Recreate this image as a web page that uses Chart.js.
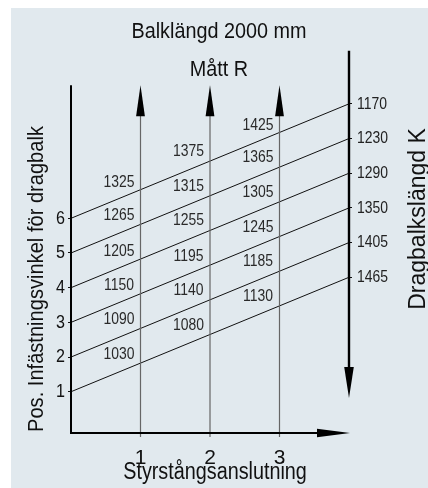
<!DOCTYPE html>
<html><head><meta charset="utf-8">
<script src="https://cdn.jsdelivr.net/npm/chart.js@4"></script>
<style>html,body{margin:0;padding:0;background:#fff}canvas{display:block}</style>
</head><body>
<canvas id="c" width="428" height="488"></canvas>
<script>
const FONT = "'Liberation Sans', Arial, sans-serif";

// ---- texts ----
const titleLines = ['Balklängd 2000 mm', 'Mått R'];
const xTitle = 'Styrstångsanslutning';
const yTitle = 'Pos. Infästningsvinkel för dragbalk';
const y2Title = 'Dragbalkslängd K';

// ---- axis ticks ----
const xTicks = [1, 2, 3];                       // Styrstångsanslutning
const posTicks = [1, 2, 3, 4, 5, 6];            // Pos. infästningsvinkel
const kLabels = ['1465', '1405', '1350', '1290', '1230', '1170']; // Dragbalkslängd K
const kPos = [4.3, 5.3, 6.3, 7.3, 8.3, 9.3];    // where each K sits on the right axis

// ---- Mått R labels, one column per Styrstångsanslutning ----
const rCols = [0.69, 1.69, 2.69];
const r1Labels = ['1030', '1090', '1150', '1205', '1265', '1325'];
const r1Pos = [2.08, 3.09, 4.08, 5.06, 6.09, 7.05];
const r2Labels = ['1080', '1140', '1195', '1255', '1315', '1375'];
const r2Pos = [2.92, 3.93, 4.91, 5.93, 6.93, 7.92];
const r3Labels = ['1130', '1185', '1245', '1305', '1365', '1425'];
const r3Pos = [3.76, 4.75, 5.74, 6.74, 7.76, 8.69];

const rLabelSets = [r1Labels, r2Labels, r3Labels];
const rPosSets = [r1Pos, r2Pos, r3Pos];

const lineSets = posTicks.map((p, i) => ({
  type: 'line',
  data: [{x: 0, y: p}, {x: 4, y: kPos[i]}],
  borderColor: '#111', borderWidth: 1, pointRadius: 0, clip: false, yAxisID: 'y'
}));
const rSets = rPosSets.map((arr, c) => ({
  type: 'line', rLabels: rLabelSets[c], showLine: false, pointRadius: 0,
  data: arr.map(v => ({x: rCols[c], y: v})), yAxisID: 'y'
}));

function arrowHead(ctx, tx, ty, dx, dy, len, half) {
  const bx = tx - dx * len, by = ty - dy * len;
  const px = -dy, py = dx;
  ctx.beginPath();
  ctx.moveTo(tx, ty);
  ctx.lineTo(bx + px * half, by + py * half);
  ctx.lineTo(bx - px * half, by - py * half);
  ctx.closePath();
  ctx.fill();
}

// draw text horizontally condensed (the original uses a narrow face)
function narrowText(ctx, text, x, y, sx) {
  ctx.save();
  ctx.translate(x, y);
  ctx.scale(sx, 1);
  ctx.fillText(text, 0, 0);
  ctx.restore();
}
// wrap a Chart.js draw method so its text comes out condensed around anchor x
function squeeze(obj, method, anchorFn, sx) {
  if (obj['_sq_' + method]) return;
  const orig = obj[method].bind(obj);
  obj[method] = function (...args) {
    const ctx = this.ctx;
    const ax = anchorFn(this);
    ctx.save();
    ctx.translate(ax, 0);
    ctx.scale(sx, 1);
    ctx.translate(-ax, 0);
    orig(...args);
    ctx.restore();
  };
  obj['_sq_' + method] = true;
}

const deco = {
  id: 'deco',
  afterLayout(chart) {
    squeeze(chart.scales.y, 'drawLabels', s => s.right - 6, 0.85);
    squeeze(chart.scales.y2, 'drawLabels', s => s.left + 8, 0.82);
    if (chart.titleBlock) squeeze(chart.titleBlock, 'draw', t => (t.left + t.right) / 2, 0.9);
  },
  beforeDraw(chart) {
    const ctx = chart.ctx;
    ctx.save();
    ctx.fillStyle = '#e1e9ee';
    ctx.fillRect(11, 8, 417, 480);
    ctx.restore();
  },
  afterDatasetsDraw(chart) {
    const {ctx, scales: {x, y}} = chart;
    const X0 = x.getPixelForValue(0), X4 = x.getPixelForValue(4);
    const Yb = y.getPixelForValue(y.min);
    const topArrow = y.getPixelForValue(9.84);
    ctx.save();
    // vertical Mått R lines with arrows
    xTicks.forEach(v => {
      const px = x.getPixelForValue(v);
      ctx.strokeStyle = '#666';
      ctx.lineWidth = 1.2;
      ctx.beginPath();
      ctx.moveTo(px, topArrow + 28);
      ctx.lineTo(px, Yb + 4);
      ctx.stroke();
      ctx.fillStyle = '#000';
      arrowHead(ctx, px, topArrow, 0, -1, 31, 4.4);
    });
    ctx.strokeStyle = '#000';
    ctx.fillStyle = '#000';
    // left axis
    ctx.lineWidth = 2;
    ctx.beginPath();
    ctx.moveTo(X0, topArrow);
    ctx.lineTo(X0, Yb);
    ctx.stroke();
    // bottom axis with arrow
    ctx.beginPath();
    ctx.moveTo(X0 - 1, Yb);
    ctx.lineTo(X4 - 20, Yb);
    ctx.stroke();
    arrowHead(ctx, X4 + 1, Yb, 1, 0, 33, 4.3);
    // right axis with downward arrow
    const rTop = y.getPixelForValue(10.83), rTip = y.getPixelForValue(0.82);
    ctx.lineWidth = 2.4;
    ctx.beginPath();
    ctx.moveTo(X4, rTop);
    ctx.lineTo(X4, rTip - 20);
    ctx.stroke();
    arrowHead(ctx, X4, rTip, 0, 1, 31, 4.8);

    // Mått R labels
    ctx.font = '17px ' + FONT;
    ctx.fillStyle = '#2a2a2a';
    ctx.textAlign = 'center';
    ctx.textBaseline = 'middle';
    chart.data.datasets.forEach((ds, di) => {
      if (!ds.rLabels) return;
      const meta = chart.getDatasetMeta(di);
      meta.data.forEach((el, i) => narrowText(ctx, ds.rLabels[i], el.x, el.y, 0.82));
    });

    // axis titles
    ctx.fillStyle = '#111';
    ctx.font = '23px ' + FONT;
    narrowText(ctx, xTitle, 215, 473, 0.86);
    ctx.font = '22px ' + FONT;
    ctx.save();
    ctx.translate(37, 279);
    ctx.rotate(-Math.PI / 2);
    narrowText(ctx, yTitle, 0, 0, 0.913);
    ctx.restore();
    ctx.save();
    ctx.translate(419, 219);
    ctx.rotate(-Math.PI / 2);
    ctx.font = '23px ' + FONT;
    ctx.fillText(y2Title, 0, 0);
    ctx.restore();
    ctx.restore();
  }
};

new Chart(document.getElementById('c'), {
  type: 'line',
  data: {datasets: [...lineSets, ...rSets]},
  options: {
    responsive: false, animation: false, devicePixelRatio: 1,
    layout: {padding: {left: 10, top: 0, right: 0, bottom: 0}},
    plugins: {
      legend: {display: false}, tooltip: {enabled: false},
      title: {
        display: true, text: titleLines, color: '#111',
        font: {family: FONT, size: 22, weight: 'normal', lineHeight: '37.5px'},
        padding: {top: 13.25, bottom: 0}
      }
    },
    scales: {
      x: {
        type: 'linear', min: 0, max: 4,
        afterBuildTicks: s => { s.ticks = xTicks.map(v => ({value: v})); },
        afterFit: s => { s.height = 55; },
        grid: {display: false}, border: {display: false},
        ticks: {padding: 5, color: '#111', font: {family: FONT, size: 21}, autoSkip: false, maxRotation: 0}
      },
      y: {
        type: 'linear', min: -0.19, max: 9.75,
        afterBuildTicks: s => { s.ticks = posTicks.map(v => ({value: v})); },
        afterFit: s => { s.width = 61; },
        grid: {drawOnChartArea: false, drawTicks: true, tickLength: 3, color: '#111', lineWidth: 1},
        border: {display: false},
        ticks: {padding: 3, color: '#111', font: {family: FONT, size: 19}, autoSkip: false}
      },
      y2: {
        type: 'linear', position: 'right', min: -0.19, max: 9.75,
        afterBuildTicks: s => { s.ticks = kPos.map(v => ({value: v})); },
        afterFit: s => { s.width = 79; },
        grid: {drawOnChartArea: false, drawTicks: true, tickLength: 3, color: '#111', lineWidth: 1},
        border: {display: false},
        ticks: {
          padding: 5, color: '#222', font: {family: FONT, size: 17}, autoSkip: false,
          callback: v => kLabels[kPos.indexOf(v)]
        }
      }
    }
  },
  plugins: [deco]
});
</script>
</body></html>
